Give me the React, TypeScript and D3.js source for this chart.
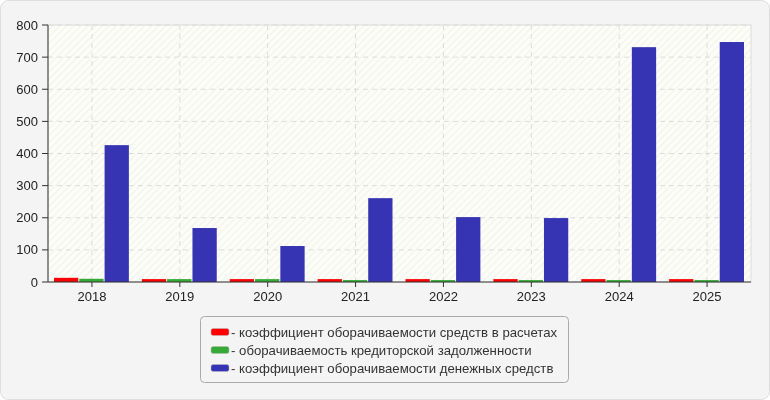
import React from "react";
import * as d3 from "d3";

const categories = ["2018", "2019", "2020", "2021", "2022", "2023", "2024", "2025"];
const seriesNames = [
  "коэффициент оборачиваемости средств в расчетах",
  "оборачиваемость кредиторской задолженности",
  "коэффициент оборачиваемости денежных средств",
];
const receivablesTurnover = [13, 9, 9, 9, 9, 9, 9, 9];
const payablesTurnover = [10, 9, 9, 6, 6, 6, 6, 6];
const cashTurnover = [426, 168, 112, 261, 202, 199, 731, 747];
const seriesColors = ["#ff0000", "#36a936", "#3634b2"];
const yTicks = [0, 100, 200, 300, 400, 500, 600, 700, 800];

const W = 770;
const H = 400;
const plot = { left: 48, right: 751, top: 25, bottom: 282 };

export default function App() {
  const series = [receivablesTurnover, payablesTurnover, cashTurnover];
  const x = d3.scaleBand<string>().domain(categories).range([plot.left, plot.right]).paddingInner(0).paddingOuter(0);
  const inner = d3
    .scaleBand<number>()
    .domain([0, 1, 2])
    .range([6, x.bandwidth() - 7])
    .paddingInner(0.04);
  const y = d3.scaleLinear().domain([0, 800]).range([plot.bottom, plot.top]);
  const font = "'Liberation Sans', Arial, sans-serif";

  return (
    <svg
      width={W}
      height={H}
      style={{ position: "fixed", left: 0, top: 0 }}
      fontFamily={font}
    >
      <defs>
        <pattern id="hatch" width="5" height="5" patternUnits="userSpaceOnUse" patternTransform="rotate(45)">
          <rect width="5" height="5" fill="#fdfdf7" />
          <line x1="0" y1="0" x2="0" y2="5" stroke="#f1f1ed" strokeWidth="2" />
        </pattern>
      </defs>
      <rect x={0.5} y={0.5} width={W - 1} height={H - 1} rx={8} fill="#f4f4f4" stroke="#dedede" />
      <rect
        x={plot.left}
        y={plot.top}
        width={plot.right - plot.left}
        height={plot.bottom - plot.top}
        fill="url(#hatch)"
        stroke="#dcdcdc"
      />
      {yTicks.slice(1).map((t) => (
        <line
          key={"hg" + t}
          x1={plot.left}
          x2={plot.right}
          y1={y(t)}
          y2={y(t)}
          stroke="#dcdcdc"
          strokeDasharray="5,4"
        />
      ))}
      {categories.map((c) => {
        const cx = (x(c) as number) + x.bandwidth() / 2;
        return (
          <line key={"vg" + c} x1={cx} x2={cx} y1={plot.top} y2={plot.bottom} stroke="#dcdcdc" strokeDasharray="5,4" />
        );
      })}
      {categories.map((c, i) =>
        series.map((s, j) => (
          <rect
            key={c + "-" + j}
            x={(x(c) as number) + (inner(j) as number)}
            y={y(s[i])}
            width={inner.bandwidth()}
            height={plot.bottom - y(s[i])}
            fill={seriesColors[j]}
          />
        ))
      )}
      <line x1={plot.left} x2={plot.left} y1={plot.top} y2={plot.bottom} stroke="#333" />
      <line x1={plot.left} x2={plot.right} y1={plot.bottom} y2={plot.bottom} stroke="#333" />
      {yTicks.map((t) => (
        <g key={"yt" + t}>
          <line x1={plot.left - 6} x2={plot.left} y1={y(t)} y2={y(t)} stroke="#333" />
          <text x={plot.left - 10} y={y(t)} dy="0.35em" textAnchor="end" fontSize={13} fill="#222">
            {t}
          </text>
        </g>
      ))}
      {categories.map((c) => {
        const cx = (x(c) as number) + x.bandwidth() / 2;
        return (
          <g key={"xt" + c}>
            <line x1={cx} x2={cx} y1={plot.bottom} y2={plot.bottom + 5} stroke="#333" />
            <text x={cx} y={plot.bottom + 19} textAnchor="middle" fontSize={13} fill="#222">
              {c}
            </text>
          </g>
        );
      })}
      <rect x={200.5} y={316.5} width={368} height={66} rx={4} fill="#f4f4f4" stroke="#aaaaaa" />
      {seriesNames.map((n, j) => {
        const cy = 332 + j * 18;
        return (
          <g key={"lg" + j}>
            <rect x={211} y={cy - 3.5} width={18} height={7} rx={2} fill={seriesColors[j]} stroke="#bbb" strokeWidth={0.5} />
            <text x={231} y={cy} dy="0.35em" fontSize={13.2} fill="#333">
              {"- " + n}
            </text>
          </g>
        );
      })}
    </svg>
  );
}
